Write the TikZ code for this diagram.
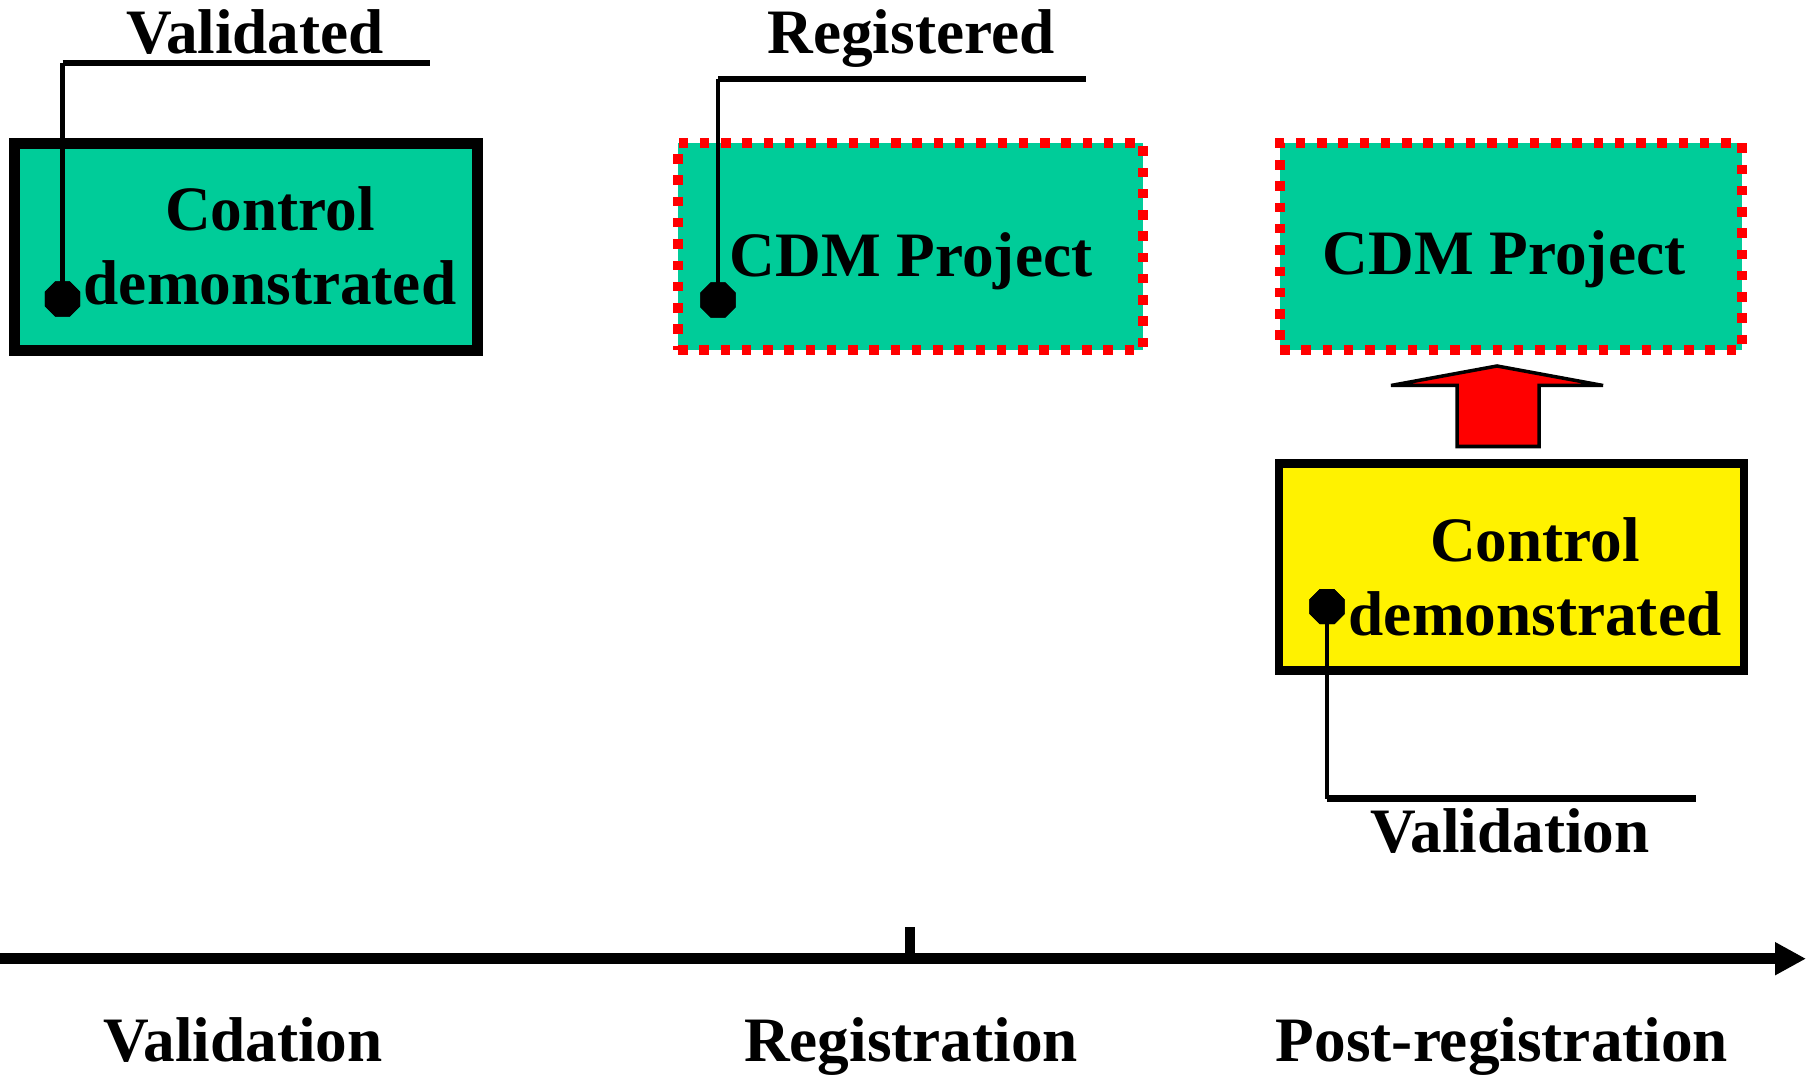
\documentclass[tikz,border=0pt]{standalone}
\usepackage{fontspec}
\setmainfont{Liberation Serif}
\usepackage{xcolor}
\usepackage{tikz}
\usetikzlibrary{shapes.geometric, arrows.meta}
\definecolor{cdmgreen}{RGB}{0,204,153}

\begin{document}
\begin{tikzpicture}[every node/.style={inner sep=0pt, font=\fontsize{18}{21.3}\selectfont\bfseries},
    solidbox/.style={draw, rectangle},
    dotbox/.style={draw=red, fill=cdmgreen, rectangle, line width=2.7pt, dash pattern=on 2.7pt off 3.35pt},
    pin/.style={regular polygon, regular polygon sides=8, fill=black, minimum size=3.8mm},
    stem/.style={line width=1.3pt},
    bar/.style={line width=1.9pt}]
    \useasboundingbox (0,0) rectangle (18.14,10.74);

    \node[solidbox, fill=cdmgreen, line width=3pt, minimum width=4.63cm, minimum height=2.07cm] (A) at (2.46,8.27) {};
    \node[dotbox, minimum width=4.65cm, minimum height=2.07cm] (B) at (9.105,8.275) {};
    \node[dotbox, minimum width=4.62cm, minimum height=2.07cm] (C) at (15.11,8.275) {};
    \node[solidbox, fill=yellow, line width=2.3pt, minimum width=4.65cm, minimum height=2.07cm] (D) at (15.115,5.07) {};

    \node[anchor=base, align=center] (tA) at (2.70,7.69) {Control\\demonstrated};
    \node[anchor=base] (tB) at (9.11,7.97) {CDM Project};
    \node[anchor=base] (tC) at (15.04,7.99) {CDM Project};
    \node[anchor=base, align=center] (tD) at (15.35,4.38) {Control\\demonstrated};

    \coordinate (cA) at (0.625,10.11);
    \coordinate (eA) at (4.30,10.11);
    \coordinate (cB) at (7.18,9.95);
    \coordinate (eB) at (10.86,9.95);
    \coordinate (cD) at (13.27,2.753);
    \coordinate (eD) at (16.96,2.753);

    \node[pin] (pA) at (0.625,7.75) {};
    \node[pin] (pB) at (7.18,7.74) {};
    \node[pin] (pD) at (13.27,4.673) {};

    \draw[stem] (pA.center) -- (cA);
    \draw[bar] (cA) -- (eA);
    \draw[stem] (pB.center) -- (cB);
    \draw[bar] (cB) -- (eB);
    \draw[stem] (pD.center) -- (cD);
    \draw[bar] (cD) -- (eD);
    \node[pin] at (pA) {};
    \node[pin] at (pB) {};
    \node[pin] at (pD) {};

    \node[anchor=base] (lA) at (2.55,10.20) {Validated};
    \node[anchor=base] (lB) at (9.11,10.20) {Registered};
    \node[anchor=base] (lD) at (15.10,2.21) {Validation};

    \draw[fill=red, line width=1pt] (14.57,6.275) -- (14.57,6.885) -- (13.91,6.885) -- (14.97,7.08)
        -- (16.03,6.885) -- (15.39,6.885) -- (15.39,6.275) -- cycle;

    \coordinate (t0) at (0,1.153);
    \coordinate (t1) at (18.06,1.153);
    \coordinate (tick) at (9.10,1.467);
    \draw[line width=3pt, -{Triangle[length=3.1mm, width=3.1mm]}] (t0) -- (t1);
    \draw[line width=3pt] (tick) -- (tick |- t0);

    \node[anchor=base] (phA) at (2.43,0.13) {Validation};
    \node[anchor=base] (phB) at (9.11,0.13) {Registration};
    \node[anchor=base] (phC) at (15.02,0.13) {Post-registration};
\end{tikzpicture}
\end{document}
